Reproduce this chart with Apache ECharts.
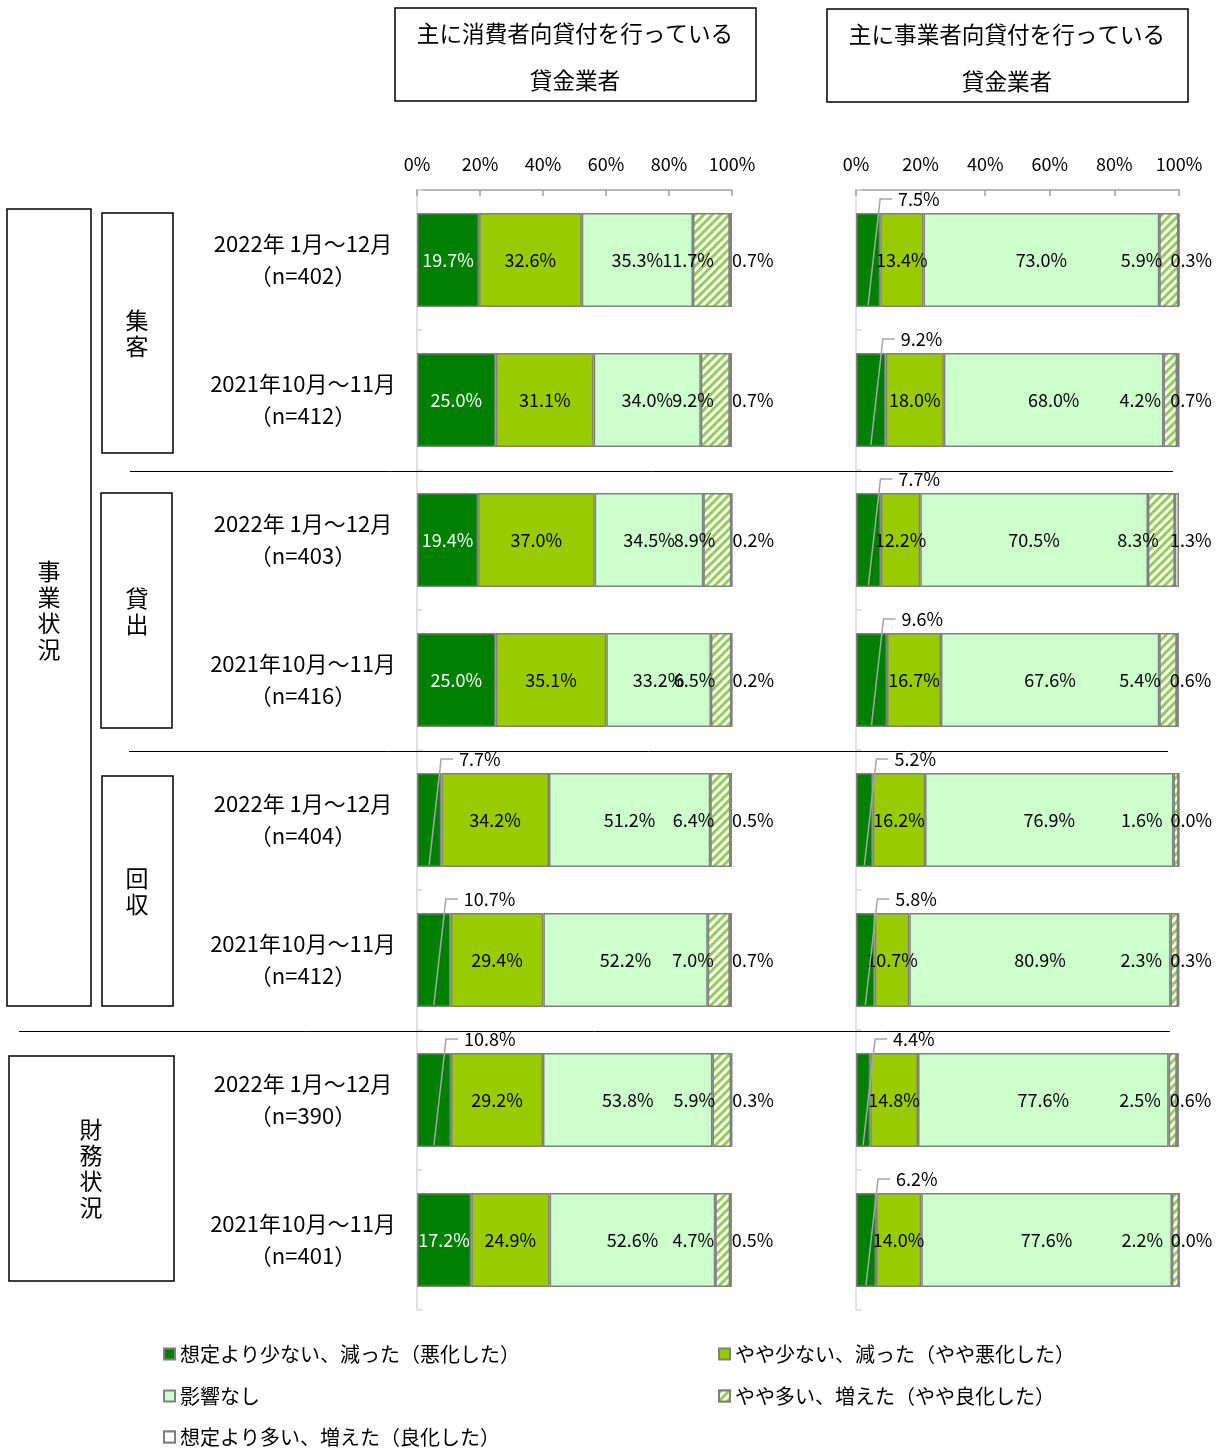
<!DOCTYPE html>
<html>
<head>
<meta charset="utf-8">
<script src="https://cdn.jsdelivr.net/npm/echarts@6/dist/echarts.min.js"></script>
<style>
html,body{margin:0;padding:0;background:#fff;}
#main{width:1227px;height:1452px;}
</style>
</head>
<body>
<div id="main"></div>
<script>
// ---- data ----
const periods = ['2022年 1月～12月','2021年10月～11月','2022年 1月～12月','2021年10月～11月','2022年 1月～12月','2021年10月～11月','2022年 1月～12月','2021年10月～11月'];
const sampleN = [402, 412, 403, 416, 404, 412, 390, 401];
const seriesNames = ['想定より少ない、減った（悪化した）','やや少ない、減った（やや悪化した）','影響なし','やや多い、増えた（やや良化した）','想定より多い、増えた（良化した）'];
const xTicks = [0, 20, 40, 60, 80, 100];

// consumer lenders (left)
const consumerWorse   = [19.7, 25.0, 19.4, 25.0, 7.7, 10.7, 10.8, 17.2];
const consumerSlWorse = [32.6, 31.1, 37.0, 35.1, 34.2, 29.4, 29.2, 24.9];
const consumerNone    = [35.3, 34.0, 34.5, 33.2, 51.2, 52.2, 53.8, 52.6];
const consumerSlBetter= [11.7, 9.2, 8.9, 6.5, 6.4, 7.0, 5.9, 4.7];
const consumerBetter  = [0.7, 0.7, 0.2, 0.2, 0.5, 0.7, 0.3, 0.5];

// business lenders (right)
const businessWorse   = [7.5, 9.2, 7.7, 9.6, 5.2, 5.8, 4.4, 6.2];
const businessSlWorse = [13.4, 18.0, 12.2, 16.7, 16.2, 10.7, 14.8, 14.0];
const businessNone    = [73.0, 68.0, 70.5, 67.6, 76.9, 80.9, 77.6, 77.6];
const businessSlBetter= [5.9, 4.2, 8.3, 5.4, 1.6, 2.3, 2.5, 2.2];
const businessBetter  = [0.3, 0.7, 1.3, 0.6, 0.0, 0.3, 0.6, 0.0];

// ---- chart ----
const FONT = '"Noto Sans CJK JP", "Noto Sans", sans-serif';
const chart = echarts.init(document.getElementById('main'), null, {renderer: 'canvas'});
const catLabels = periods.map((p, i) => p + '\n（n=' + sampleN[i] + '）');
const colors = ['#008000', '#99CC00', '#CCFFCC', '#FFFFFF', '#FFFFFF'];
const fmt = v => (+v).toFixed(1) + '%';
const SMALL = 12;

function barSeries(idx, data, gi, right) {
  const s = {
    name: seriesNames[idx],
    type: 'bar',
    stack: 'g' + gi,
    xAxisIndex: gi,
    yAxisIndex: gi,
    barWidth: '67%',
    data: data,
    itemStyle: {color: colors[idx], borderColor: '#808080', borderWidth: 1.5},
    label: {show: true, color: '#000', fontSize: 18, fontFamily: FONT, position: 'inside',
      formatter: p => fmt(p.value)},
    emphasis: {disabled: true}
  };
  if (idx === 0) {
    s.label.color = '#fff';
    s.label.formatter = p => (p.value < SMALL ? '' : fmt(p.value));
  }
  if (idx === 3) {
    s.itemStyle.decal = {symbol: 'rect', symbolSize: 1, color: '#92D050', backgroundColor: '#fff',
      dashArrayX: [1, 0], dashArrayY: [3, 3], rotation: -Math.PI / 4};
    s.label.position = 'insideRight';
    s.label.distance = 16;
  }
  if (idx === 4) {
    s.itemStyle.decal = {symbol: 'rect', symbolSize: 0.4, color: '#669933', backgroundColor: '#fff',
      dashArrayX: [[1, 5]], dashArrayY: [1, 5], rotation: 0};
    s.label.position = 'right';
    s.label.distance = right ? -9 : 0;
  }
  return s;
}

function calloutSeries(data, gi) {
  return {
    type: 'custom',
    xAxisIndex: gi,
    yAxisIndex: gi,
    z: 5,
    data: data.map((v, i) => [v, i]).filter(d => d[0] < SMALL),
    encode: {x: 0, y: 1},
    renderItem: function (params, api) {
      const v = api.value(0), c = api.value(1);
      const p0 = api.coord([0, c]);
      const p1 = api.coord([v, c]);
      const bh = api.size([0, 1])[1] * 0.67;
      const xm = (p0[0] + p1[0]) / 2;
      const yb = p0[1] + bh / 2 - 2;
      const yt = p0[1] - bh / 2 - 14;
      return {
        type: 'group',
        children: [
          {type: 'polyline', shape: {points: [[xm, yb], [xm + 12, yt], [xm + 24, yt]]},
            style: {stroke: '#a6a6a6', lineWidth: 1.5, fill: null}},
          {type: 'text', x: xm + 30, y: yt,
            style: {text: fmt(v), fill: '#000', font: '18px ' + FONT, verticalAlign: 'middle', align: 'left'}}
        ]
      };
    }
  };
}

function xAxisCfg(gi) {
  return {
    type: 'value', gridIndex: gi, position: 'top', min: xTicks[0], max: xTicks[xTicks.length - 1],
    interval: xTicks[1] - xTicks[0],
    axisLine: {show: true, lineStyle: {color: '#a0a0a0', width: 1.5}},
    axisTick: {show: true, inside: true, length: 6, lineStyle: {color: '#a0a0a0', width: 1.5}},
    splitLine: {show: false},
    axisLabel: {formatter: '{value}%', color: '#000', fontSize: 18, fontFamily: FONT, margin: 17}
  };
}
function yAxisCfg(gi, showLabels) {
  return {
    type: 'category', gridIndex: gi, inverse: true, data: catLabels,
    axisLine: {show: true, lineStyle: {color: '#d9d9d9', width: 1.5}},
    axisTick: {show: true, inside: true, length: 6, lineStyle: {color: '#d9d9d9', width: 1.5}},
    axisLabel: {show: showLabels, color: '#000', fontSize: 22, fontFamily: FONT, lineHeight: 32,
      align: 'center', margin: 114}
  };
}

function legendCfg(idx, left, top) {
  return {left: left, top: top, itemWidth: 11, itemHeight: 11, icon: 'rect',
    data: [seriesNames[idx]],
    textStyle: {fontSize: 20, color: '#000', fontFamily: FONT}};
}

function rect(x, y, w, h) {
  return {type: 'rect', shape: {x: x, y: y, width: w, height: h},
    style: {fill: '#fff', stroke: '#000', lineWidth: 1.5}, z: 0};
}
function txt(x, y, t, size, lh) {
  return {type: 'text', x: x, y: y, z: 10,
    style: {text: t, fill: '#000', font: size + 'px ' + FONT, align: 'center', verticalAlign: 'middle', lineHeight: lh}};
}
function hline(x1, x2, y) {
  return {type: 'line', shape: {x1: x1, y1: y + 0.5, x2: x2, y2: y + 0.5}, style: {stroke: '#000', lineWidth: 1}, z: 100};
}

const option = {
  backgroundColor: '#fff',
  animation: false,
  textStyle: {fontFamily: FONT},
  grid: [
    {left: 417, top: 190, width: 315, height: 1120},
    {left: 856, top: 190, width: 323, height: 1120}
  ],
  xAxis: [xAxisCfg(0), xAxisCfg(1)],
  yAxis: [yAxisCfg(0, true), yAxisCfg(1, false)],
  legend: [
    legendCfg(0, 158, 1339),
    legendCfg(2, 158, 1381),
    legendCfg(4, 158, 1422),
    legendCfg(1, 713, 1339),
    legendCfg(3, 713, 1381)
  ],
  series: [
    barSeries(0, consumerWorse, 0, false),
    barSeries(1, consumerSlWorse, 0, false),
    barSeries(2, consumerNone, 0, false),
    barSeries(3, consumerSlBetter, 0, false),
    barSeries(4, consumerBetter, 0, false),
    barSeries(0, businessWorse, 1, true),
    barSeries(1, businessSlWorse, 1, true),
    barSeries(2, businessNone, 1, true),
    barSeries(3, businessSlBetter, 1, true),
    barSeries(4, businessBetter, 1, true),
    calloutSeries(consumerWorse, 0),
    calloutSeries(businessWorse, 1)
  ],
  graphic: [
    rect(395, 8, 361, 93), txt(575, 33, '主に消費者向貸付を行っている', 22.6),
    txt(575, 80, '貸金業者', 22.6),
    rect(827, 9, 361, 93), txt(1007, 34, '主に事業者向貸付を行っている', 22.6),
    txt(1007, 81, '貸金業者', 22.6),
    rect(7, 209, 84, 797), txt(49, 610, '事\n業\n状\n況', 23, 26),
    rect(102, 213, 71, 240), txt(137, 333, '集\n客', 23, 26),
    rect(101, 493, 71, 235), txt(137, 611, '貸\n出', 23, 26),
    rect(102, 776, 71, 230), txt(137, 891, '回\n収', 23, 26),
    rect(9, 1056, 165, 225), txt(91, 1168, '財\n務\n状\n況', 23, 26),
    hline(130, 1173, 471),
    hline(129, 1168, 751),
    hline(19, 1170, 1031)
  ]
};
chart.setOption(option);
</script>
</body>
</html>
